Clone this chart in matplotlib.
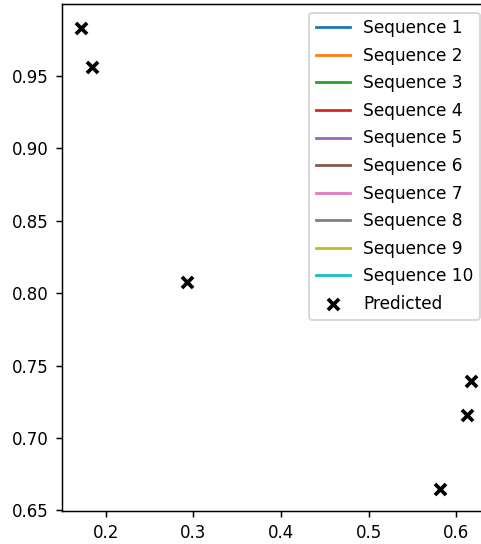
import numpy as np
import matplotlib.pyplot as plt

# predicted points
pred_x = [0.172, 0.184, 0.293, 0.581, 0.612, 0.617]
pred_y = [0.983, 0.956, 0.808, 0.665, 0.716, 0.739]
seq_labels = ['Sequence %d' % i for i in range(1, 11)]

dpi = 133.3
fig = plt.figure(figsize=(481 / dpi, 544 / dpi), dpi=dpi)
ax = fig.add_axes([62 / 481, 33 / 544, (489 - 62) / 481, (511 - 4) / 544])

# sequence lines have no visible data in the reference, only legend entries
for lab in seq_labels:
    ax.plot([], [], label=lab)

ax.scatter(pred_x, pred_y, marker='x', color='black', s=36, linewidths=2,
           label='Predicted', zorder=3)

ax.set_xlim(0.150, 0.6375)
ax.set_ylim(0.6495, 0.9997)
ax.set_xticks([0.2, 0.3, 0.4, 0.5, 0.6])
ax.set_yticks([0.65, 0.70, 0.75, 0.80, 0.85, 0.90, 0.95])
ax.tick_params(labelsize=9)
ax.legend(loc='upper right', fontsize=9.2, labelspacing=0.56)

fig.savefig('out.png', dpi=dpi)
